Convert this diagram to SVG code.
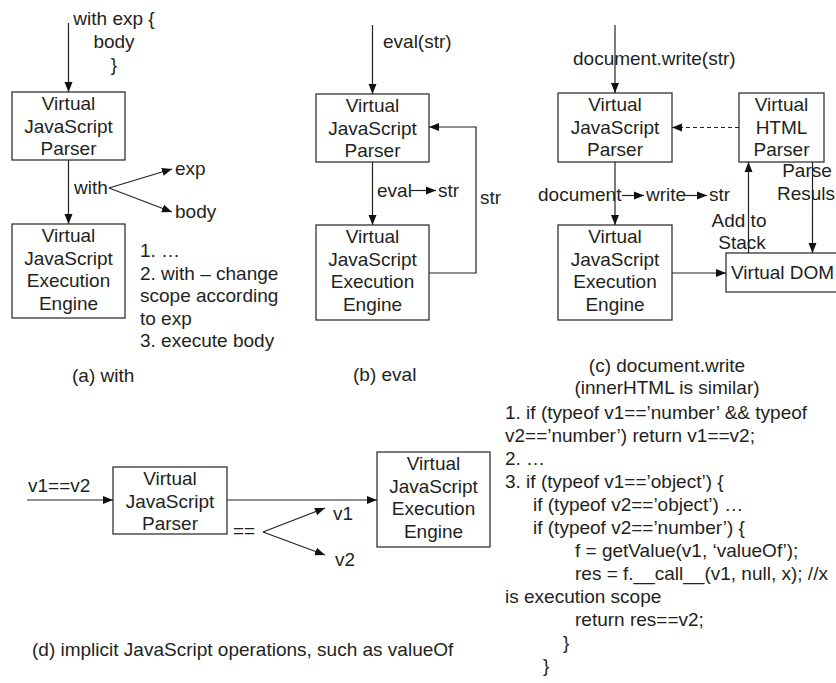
<svg xmlns="http://www.w3.org/2000/svg" width="836" height="683" viewBox="0 0 836 683">
<style>
text{font-family:"Liberation Sans",Arial,sans-serif;font-size:19px;fill:#231f20}
.m{text-anchor:middle}
.box{fill:#fff;stroke:#333;stroke-width:1.3}
.ln{fill:none;stroke:#222;stroke-width:1.2}
.dash{stroke-dasharray:4 3}
</style>
<defs>
<marker id="ah" markerUnits="userSpaceOnUse" markerWidth="10" markerHeight="10" viewBox="0 0 10 10" refX="10" refY="5" orient="auto">
<path d="M0,1 L10,5 L0,9 Z" fill="#111"/>
</marker>
</defs>
<rect width="836" height="683" fill="#fff"/>

<!-- (a) with -->
<g id="a-parser">
<rect class="box" x="12" y="92" width="113" height="68"/>
<text class="m" x="68.5" y="110">Virtual</text>
<text class="m" x="68.5" y="132.5">JavaScript</text>
<text class="m" x="68.5" y="155">Parser</text>
</g>
<g id="a-engine">
<rect class="box" x="12" y="224" width="113" height="94"/>
<text class="m" x="68.5" y="242">Virtual</text>
<text class="m" x="68.5" y="264.5">JavaScript</text>
<text class="m" x="68.5" y="287">Execution</text>
<text class="m" x="68.5" y="309.5">Engine</text>
</g>
<g id="a-notes">
<text class="m" x="114" y="25">with exp {</text>
<text class="m" x="114" y="48">body</text>
<text class="m" x="114" y="71">}</text>
<text x="74" y="194">with</text>
<text x="175" y="175">exp</text>
<text x="175" y="218">body</text>
<text x="140" y="257">1. …</text>
<text x="140" y="279.5">2. with – change</text>
<text x="140" y="302">scope according</text>
<text x="140" y="324.5">to exp</text>
<text x="140" y="347">3. execute body</text>
<text x="72" y="382">(a) with</text>
</g>

<!-- (b) eval -->
<g id="b-parser">
<rect class="box" x="316" y="94" width="113" height="68"/>
<text class="m" x="372.5" y="112">Virtual</text>
<text class="m" x="372.5" y="134.5">JavaScript</text>
<text class="m" x="372.5" y="157">Parser</text>
</g>
<g id="b-engine">
<rect class="box" x="316" y="225" width="113" height="95"/>
<text class="m" x="372.5" y="243">Virtual</text>
<text class="m" x="372.5" y="265.5">JavaScript</text>
<text class="m" x="372.5" y="288">Execution</text>
<text class="m" x="372.5" y="310.5">Engine</text>
</g>
<g id="b-labels">
<text x="383" y="48">eval(str)</text>
<text x="377" y="197">eval</text>
<text x="438" y="197">str</text>
<text x="480" y="204">str</text>
<text x="353" y="381">(b) eval</text>
</g>

<!-- (c) document.write -->
<g id="c-parser">
<rect class="box" x="558" y="93" width="114" height="69"/>
<text class="m" x="615" y="111">Virtual</text>
<text class="m" x="615" y="133.5">JavaScript</text>
<text class="m" x="615" y="156">Parser</text>
</g>
<g id="c-html">
<rect class="box" x="739" y="93" width="85" height="69"/>
<text class="m" x="781.5" y="111">Virtual</text>
<text class="m" x="781.5" y="133.5">HTML</text>
<text class="m" x="781.5" y="156">Parser</text>
</g>
<g id="c-engine">
<rect class="box" x="558" y="225" width="114" height="95"/>
<text class="m" x="615" y="243">Virtual</text>
<text class="m" x="615" y="265.5">JavaScript</text>
<text class="m" x="615" y="288">Execution</text>
<text class="m" x="615" y="310.5">Engine</text>
</g>
<g id="c-dom">
<rect class="box" x="726" y="253" width="125" height="39"/>
<text x="731" y="279">Virtual DOM</text>
</g>
<g id="c-labels">
<text x="573" y="65">document.write(str)</text>
<text x="538" y="201">document</text>
<text x="646" y="201">write</text>
<text x="709" y="201">str</text>
<text class="m" x="807" y="177">Parse</text>
<text class="m" x="806" y="200">Resuls</text>
<text class="m" x="739" y="227">Add to</text>
<text class="m" x="742" y="249">Stack</text>
<text class="m" x="667" y="372">(c) document.write</text>
<text class="m" x="667" y="394">(innerHTML is similar)</text>
</g>

<!-- (d) implicit -->
<g id="d-parser">
<rect class="box" x="113" y="467" width="114" height="67"/>
<text class="m" x="170" y="485">Virtual</text>
<text class="m" x="170" y="507.5">JavaScript</text>
<text class="m" x="170" y="530">Parser</text>
</g>
<g id="d-engine">
<rect class="box" x="377" y="452" width="113" height="95"/>
<text class="m" x="433.5" y="470">Virtual</text>
<text class="m" x="433.5" y="492.5">JavaScript</text>
<text class="m" x="433.5" y="515">Execution</text>
<text class="m" x="433.5" y="537.5">Engine</text>
</g>
<g id="d-labels">
<text x="28" y="492">v1==v2</text>
<text x="233" y="537">==</text>
<text x="333" y="520">v1</text>
<text x="335" y="566">v2</text>
<text x="32" y="656">(d) implicit JavaScript operations, such as valueOf</text>
</g>

<g id="code">
<text x="505" y="419">1. if (typeof v1==’number’ &amp;&amp; typeof</text>
<text x="505" y="442">v2==’number’) return v1==v2;</text>
<text x="505" y="465">2. …</text>
<text x="505" y="488">3. if (typeof v1==’object’) {</text>
<text x="533" y="511">if (typeof v2==’object’) …</text>
<text x="533" y="534">if (typeof v2==’number’) {</text>
<text x="575" y="557">f = getValue(v1, ‘valueOf’);</text>
<text x="575" y="580">res = f.__call__(v1, null, x); //x</text>
<text x="505" y="603">is execution scope</text>
<text x="575" y="626">return res==v2;</text>
<text x="563" y="649">}</text>
<text x="543" y="672">}</text>
</g>

<g id="connectors">
<!-- a -->
<line class="ln" x1="68.5" y1="23" x2="68.5" y2="92" marker-end="url(#ah)"/>
<line class="ln" x1="68.5" y1="160" x2="68.5" y2="224" marker-end="url(#ah)"/>
<line class="ln" x1="109" y1="188" x2="172" y2="169" marker-end="url(#ah)"/>
<line class="ln" x1="109" y1="188" x2="172" y2="212" marker-end="url(#ah)"/>
<!-- b -->
<line class="ln" x1="372.5" y1="25" x2="372.5" y2="94" marker-end="url(#ah)"/>
<line class="ln" x1="372.5" y1="162" x2="372.5" y2="225" marker-end="url(#ah)"/>
<line class="ln" x1="411" y1="190.5" x2="436" y2="190.5" marker-end="url(#ah)"/>
<polyline class="ln" points="429,273 476,273 476,127 429,127" marker-end="url(#ah)"/>
<!-- c -->
<line class="ln" x1="615" y1="25" x2="615" y2="93" marker-end="url(#ah)"/>
<line class="ln" x1="615" y1="162" x2="615" y2="225" marker-end="url(#ah)"/>
<line class="ln dash" x1="739" y1="127.5" x2="672" y2="127.5" marker-end="url(#ah)"/>
<line class="ln" x1="622" y1="195.5" x2="644" y2="195.5" marker-end="url(#ah)"/>
<line class="ln" x1="684" y1="195.5" x2="707" y2="195.5" marker-end="url(#ah)"/>
<line class="ln" x1="672" y1="273" x2="726" y2="273" marker-end="url(#ah)"/>
<line class="ln" x1="748.5" y1="253" x2="748.5" y2="162" marker-end="url(#ah)"/>
<line class="ln" x1="812.5" y1="162" x2="812.5" y2="253" marker-end="url(#ah)"/>
<!-- d -->
<line class="ln" x1="27" y1="500" x2="113" y2="500" marker-end="url(#ah)"/>
<line class="ln" x1="227" y1="500" x2="377" y2="500" marker-end="url(#ah)"/>
<line class="ln" x1="263" y1="532" x2="325" y2="508" marker-end="url(#ah)"/>
<line class="ln" x1="263" y1="532" x2="325" y2="555" marker-end="url(#ah)"/>
</g>
</svg>
